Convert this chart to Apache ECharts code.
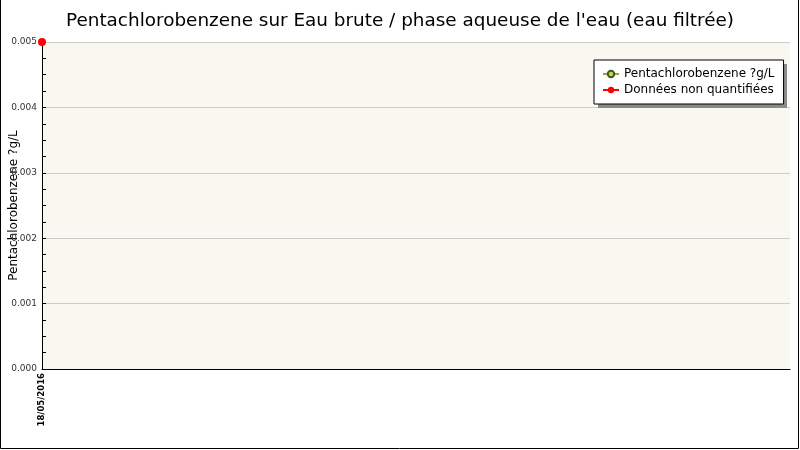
<!DOCTYPE html>
<html>
<head>
<meta charset="utf-8">
<script src="https://cdn.jsdelivr.net/npm/echarts@6/dist/echarts.min.js"></script>
<style>
  html, body { margin: 0; padding: 0; background: #fff; }
  #chart { width: 800px; height: 450px; }
</style>
</head>
<body>
<div id="chart"></div>
<script>
// dates d'échantillonnage
const dates = ['18/05/2016'];
// valeurs quantifiées (aucune)
const quantValues = [null];
// données non quantifiées (limite de quantification)
const nonQuantValues = [0.005];

const chart = echarts.init(document.getElementById('chart'));

const font = 'DejaVu Sans';

chart.setOption({
  animation: false,
  backgroundColor: '#fff',
  title: {
    text: "Pentachlorobenzene sur Eau brute / phase aqueuse de l'eau (eau filtrée)",
    left: 'center',
    top: 7,
    textStyle: { fontFamily: font, fontSize: 18.4, fontWeight: 'normal', color: '#000' }
  },
  legend: {
    left: 594,
    top: 60,
    orient: 'vertical',
    backgroundColor: '#fff',
    borderColor: '#000',
    borderWidth: 1,
    borderRadius: 0,
    padding: [8, 9, 8, 8],
    itemGap: 4,
    itemWidth: 16,
    itemHeight: 8,
    z: 10,
    textStyle: { fontFamily: font, fontSize: 12, color: '#000' },
    data: ['Pentachlorobenzene ?g/L', 'Données non quantifiées']
  },
  grid: {
    left: 42, right: 10, top: 42, bottom: 81,
    outerBoundsMode: 'none',
    containLabel: false,
    show: true,
    backgroundColor: '#F8F8F0',
    borderWidth: 0
  },
  xAxis: {
    type: 'category',
    data: dates,
    max: 1,
    boundaryGap: false,
    axisLine: { lineStyle: { color: '#000', width: 1 } },
    axisTick: { show: false },
    axisLabel: {
      rotate: 90,
      interval: 0,
      fontFamily: font,
      fontSize: 8.5,
      fontWeight: 'bold',
      color: '#000',
      margin: 4,
      formatter: v => v || ''
    },
    splitLine: { show: false }
  },
  yAxis: {
    type: 'value',
    min: 0,
    max: 0.005,
    interval: 0.001,
    name: 'Pentachlorobenzene ?g/L',
    nameLocation: 'middle',
    nameGap: 22,
    nameMoveOverlap: false,
    nameTextStyle: { fontFamily: font, fontSize: 12, color: '#000' },
    axisLine: { show: true, lineStyle: { color: '#000', width: 1 } },
    axisTick: { show: true, inside: true, length: 4, lineStyle: { color: '#000' } },
    minorTick: { show: true, splitNumber: 4, length: 4, lineStyle: { color: '#000' } },
    axisLabel: {
      fontFamily: font,
      fontSize: 9,
      color: '#333',
      margin: 5,
      formatter: v => v.toFixed(3)
    },
    splitLine: { show: true, lineStyle: { color: '#cccccc', width: 1 } }
  },
  series: [
    {
      name: 'Pentachlorobenzene ?g/L',
      type: 'line',
      data: quantValues,
      symbol: 'circle',
      symbolSize: 7,
      itemStyle: { color: '#BBDD55', borderColor: '#445522', borderWidth: 1 },
      lineStyle: { color: '#88AA44', width: 1 }
    },
    {
      name: 'Données non quantifiées',
      type: 'line',
      data: nonQuantValues,
      symbol: 'circle',
      symbolSize: 8,
      itemStyle: { color: '#FF0000' },
      lineStyle: { color: '#FF0000', width: 1 },
      z: 5
    }
  ],
  graphic: [
    {
      // ombre de la légende
      type: 'rect',
      shape: { x: 598, y: 64, width: 189, height: 44 },
      style: { fill: '#8a8a8a' },
      z: 5,
      silent: true
    },
    {
      type: 'polyline',
      shape: { points: [[0.5, 0], [0.5, 448.5], [798.5, 448.5], [798.5, 0]] },
      style: { stroke: '#000', lineWidth: 1, fill: null },
      silent: true
    }
  ]
});
</script>
</body>
</html>
